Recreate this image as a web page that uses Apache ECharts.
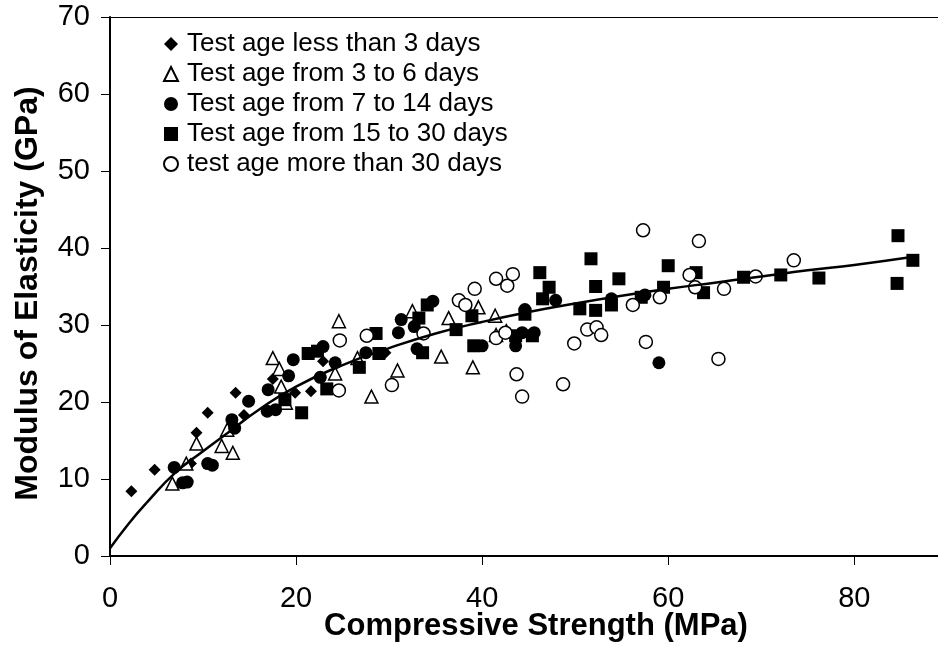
<!DOCTYPE html>
<html>
<head>
<meta charset="utf-8">
<script src="https://cdn.jsdelivr.net/npm/echarts@6/dist/echarts.min.js"></script>
<style>
  html, body { margin: 0; padding: 0; background: #fff; }
  #chart { width: 938px; height: 645px; }
</style>
</head>
<body>
<div id="chart"></div>
<script>
  // measured points, [compressive strength MPa, modulus GPa]
  const ageLess3 = [
    [2.3, 8.4], [4.8, 11.2], [8.7, 12.0], [9.3, 16.0], [10.5, 18.6], [13.5, 21.2],
    [14.4, 18.3], [17.5, 23.0], [19.9, 21.2], [21.6, 21.4], [22.9, 25.3], [29.6, 26.4]
  ];
  const age3to6 = [
    [6.7, 9.4], [8.2, 12.0], [9.3, 14.6], [12.0, 14.3], [13.2, 13.4], [12.6, 16.4],
    [17.5, 25.7], [18.2, 24.3], [18.4, 22.0], [18.9, 19.9], [24.2, 23.7], [24.6, 30.5],
    [26.6, 25.7], [28.1, 20.7], [30.9, 24.1], [32.5, 31.8], [35.6, 25.9], [36.4, 30.9],
    [39.0, 24.5], [39.6, 32.3], [41.4, 31.2], [41.5, 28.7], [42.6, 29.2]
  ];
  const age7to14 = [
    [6.9, 11.5], [7.8, 9.5], [8.3, 9.6], [10.5, 12.0], [11.0, 11.8], [13.1, 17.7],
    [13.4, 16.6], [14.9, 20.1], [17.0, 21.6], [16.9, 18.8], [17.8, 19.0], [19.2, 23.4],
    [19.7, 25.5], [22.6, 23.2], [22.9, 27.2], [24.2, 25.1], [27.5, 26.4], [31.3, 30.7],
    [31.0, 29.0], [32.7, 29.8], [33.0, 26.9], [34.7, 33.1], [40.0, 27.3], [43.6, 27.3],
    [44.3, 29.0], [45.6, 29.0], [44.6, 32.0], [47.9, 33.2], [53.9, 33.4], [57.5, 33.9],
    [59.0, 25.1]
  ];
  const age15to30 = [
    [18.8, 20.3], [20.6, 18.6], [21.3, 26.3], [22.3, 26.6], [23.3, 21.7], [26.8, 24.5],
    [28.6, 28.9], [28.9, 26.3], [33.2, 30.9], [34.1, 32.6], [33.6, 26.4], [37.2, 29.4],
    [38.9, 31.2], [39.1, 27.3], [44.6, 31.4], [43.6, 28.6], [45.4, 28.6], [46.2, 36.8],
    [46.5, 33.4], [47.2, 34.9], [50.5, 32.1], [51.7, 38.6], [52.2, 35.0], [52.2, 31.9],
    [53.9, 32.6], [54.7, 36.0], [57.1, 33.6], [59.5, 34.9], [60.0, 37.7], [63.0, 36.8],
    [63.8, 34.2], [68.1, 36.2], [72.1, 36.5], [76.2, 36.1], [84.7, 41.6], [84.6, 35.4],
    [86.3, 38.4]
  ];
  const ageMore30 = [
    [24.6, 21.5], [24.7, 28.0], [27.6, 28.6], [30.3, 22.2], [33.7, 28.9], [37.5, 33.2],
    [38.2, 32.6], [39.2, 34.7], [41.5, 36.0], [42.7, 35.1], [43.3, 36.6], [41.5, 28.3],
    [42.5, 29.0], [43.7, 23.6], [44.3, 20.7], [48.7, 22.3], [49.9, 27.6], [51.3, 29.4],
    [52.3, 29.7], [52.8, 28.7], [56.2, 32.6], [57.3, 42.3], [57.6, 27.8], [59.1, 33.6],
    [62.3, 36.5], [62.9, 34.9], [63.3, 40.9], [65.4, 25.6], [66.0, 34.7], [69.4, 36.3],
    [73.5, 38.4]
  ];
  // trend line
  const curveX = [0, 2, 4, 7, 10, 13, 16, 20, 25, 30, 35, 40, 45, 50, 55, 60, 65, 70, 75, 80, 86];
  const curveY = [1.0, 4.2, 7.0, 10.8, 13.6, 16.3, 19.0, 22.0, 24.8, 27.0, 28.9, 30.4, 31.7, 32.8, 33.8, 34.7, 35.5, 36.3, 37.1, 37.8, 38.8];

  const seriesNames = [
    'Test age less than 3 days',
    'Test age from 3 to 6 days',
    'Test age from 7 to 14 days',
    'Test age from 15 to 30 days',
    'test age more than 30 days'
  ];

  const font = '"Liberation Sans", Arial, sans-serif';
  let myChart = echarts.init(document.getElementById('chart'));

  const open = { color: '#fff', borderColor: '#000', borderWidth: 1.5, opacity: 1 };
  const solid = { color: '#000', opacity: 1 };
  const xMax = 89; // picture is cropped just past 88

  myChart.setOption({
    animation: false,
    grid: {
      left: 110, right: 0, top: 17, bottom: 89,
      outerBoundsMode: 'none'
    },
    legend: {
      orient: 'vertical',
      left: 158,
      top: 26,
      itemGap: 4,
      itemWidth: 14,
      itemHeight: 14,
      data: seriesNames,
      textStyle: { fontFamily: font, fontSize: 26, color: '#000', padding: [0, 0, 0, 4] }
    },
    xAxis: [
      {
        type: 'value',
        min: 0, max: xMax, interval: 20,
        name: 'Compressive Strength (MPa)',
        nameLocation: 'middle',
        nameGap: 55,
        nameMoveOverlap: false,
        nameTextStyle: {
          fontFamily: font, fontSize: 31, fontWeight: 'bold', color: '#000',
          padding: [0, 0, 0, 24]
        },
        axisLine: { lineStyle: { color: '#000', width: 2 } },
        axisTick: { inside: false, length: 9, lineStyle: { color: '#000' } },
        axisLabel: {
          margin: 28, fontFamily: font, fontSize: 29, color: '#000',
          formatter: v => (v % 20 === 0 ? v : '')
        },
        splitLine: { show: false }
      },
      {
        // top frame line
        type: 'value', position: 'top', min: 0, max: xMax,
        axisLine: { lineStyle: { color: '#000', width: 1 } },
        axisTick: { show: false },
        axisLabel: { show: false },
        splitLine: { show: false }
      }
    ],
    yAxis: {
      type: 'value',
      min: 0, max: 70, interval: 10,
      name: 'Modulus of Elasticity (GPa)',
      nameLocation: 'middle',
      nameGap: 66,
      nameMoveOverlap: false,
      nameTextStyle: {
        fontFamily: font, fontSize: 32, fontWeight: 'bold', color: '#000',
        padding: [0, 14, 0, 0]
      },
      axisLine: { lineStyle: { color: '#000', width: 2 } },
      axisTick: { inside: false, length: 9, lineStyle: { color: '#000' } },
      axisLabel: { margin: 20, fontFamily: font, fontSize: 29, color: '#000' },
      splitLine: { show: false }
    },
    series: [
      {
        name: seriesNames[0], type: 'scatter', symbol: 'diamond', symbolSize: 12,
        itemStyle: solid, data: ageLess3
      },
      {
        name: seriesNames[1], type: 'scatter', symbol: 'triangle', symbolSize: 13,
        itemStyle: open, data: age3to6
      },
      {
        name: seriesNames[2], type: 'scatter', symbol: 'circle', symbolSize: 13,
        itemStyle: solid, data: age7to14
      },
      {
        name: seriesNames[3], type: 'scatter', symbol: 'rect', symbolSize: 13,
        itemStyle: solid, data: age15to30
      },
      {
        name: seriesNames[4], type: 'scatter', symbol: 'circle', symbolSize: 13,
        itemStyle: open, data: ageMore30
      },
      {
        name: 'trend', type: 'line', smooth: true, showSymbol: false, z: 3,
        lineStyle: { color: '#000', width: 2.5 },
        data: curveX.map((x, i) => [x, curveY[i]])
      }
    ]
  });
  window.addEventListener('resize', myChart.resize);
</script>
</body>
</html>
